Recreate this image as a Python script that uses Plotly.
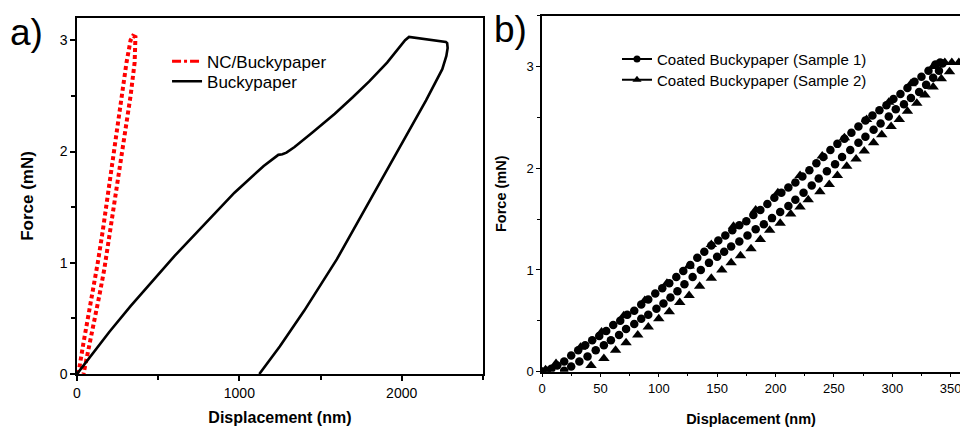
import plotly.graph_objects as go

# ---------------- Panel a data (nm, mN) ----------------
nc_x = [0, 15, 40, 70, 100, 128, 160, 188, 215, 245, 275, 305, 330, 345, 360,
        355, 330, 300, 268, 235, 200, 168, 137, 105, 72, 55, 40]
nc_y = [0, 0.06, 0.28, 0.52, 0.77, 1.0, 1.3, 1.6, 1.9, 2.2, 2.5, 2.8, 3.0, 3.04, 3.03,
        2.8, 2.5, 2.2, 1.9, 1.55, 1.24, 0.94, 0.70, 0.46, 0.22, 0.10, 0.0]

bp_x = [0, 100, 200, 330, 600, 970, 1150, 1240, 1265, 1290, 1340, 1450, 1588, 1700, 1800,
        1910, 2021, 2045, 2100, 2150, 2200, 2250, 2272, 2280,
        2283, 2275, 2250, 2150, 2000, 1800, 1600, 1400, 1250, 1123]
bp_y = [0, 0.19, 0.38, 0.61, 1.06, 1.63, 1.87, 1.97, 1.975, 1.99, 2.04, 2.17, 2.34, 2.49, 2.63,
        2.80, 3.00, 3.03, 3.02, 3.01, 3.00, 2.99, 2.985, 2.975,
        2.93, 2.86, 2.74, 2.46, 2.07, 1.55, 1.03, 0.57, 0.25, 0.0]

# ---------------- Panel b data (nm, mN) ----------------
s1_x = [0, 4, 8, 13, 19, 25, 31, 37, 43, 49, 55, 61, 67, 73, 79, 85, 91, 97, 103, 109,
        115, 121, 127, 133, 139, 145, 151, 157, 163, 169, 175, 181, 187, 193, 199, 205,
        211, 217, 223, 229, 235, 241, 247, 253, 259, 265, 271, 277, 283, 289, 295, 301,
        307, 313, 319, 325, 331, 337, 341,
        343, 340, 335, 329, 323, 316, 310, 303, 297, 290, 284, 277, 271, 264, 257, 251,
        244, 237, 231, 224, 217, 211, 204, 197, 190, 183, 176, 169, 162, 156, 150, 143,
        136, 129, 122, 116, 110, 104, 98, 91, 85, 79, 72, 66, 59, 53, 46, 39, 32, 25, 19]
s1_y = [0.00, 0.01, 0.03, 0.06, 0.10, 0.16, 0.21, 0.26, 0.31, 0.35, 0.40, 0.46, 0.50, 0.56,
        0.60, 0.66, 0.71, 0.77, 0.82, 0.87, 0.93, 0.99, 1.05, 1.12, 1.18, 1.24, 1.29, 1.34,
        1.39, 1.44, 1.48, 1.54, 1.59, 1.65, 1.71, 1.76, 1.81, 1.86, 1.92, 1.98, 2.05, 2.11,
        2.18, 2.24, 2.29, 2.35, 2.41, 2.47, 2.52, 2.57, 2.62, 2.68, 2.73, 2.79, 2.85, 2.90,
        2.96, 3.02, 3.04,
        3.03, 2.96, 2.89, 2.82, 2.75, 2.69, 2.63, 2.58, 2.51, 2.44, 2.38, 2.31, 2.25, 2.18,
        2.11, 2.04, 1.97, 1.90, 1.83, 1.76, 1.69, 1.63, 1.57, 1.51, 1.45, 1.40, 1.34, 1.28,
        1.23, 1.18, 1.13, 1.07, 1.00, 0.93, 0.86, 0.79, 0.73, 0.67, 0.62, 0.56, 0.52, 0.47,
        0.42, 0.36, 0.31, 0.26, 0.21, 0.15, 0.10, 0.05, 0.01]

s2_x = [0, 3, 12, 33, 51, 70, 88, 107, 126, 145, 164, 183, 202, 221, 240, 259, 278, 297,
        316, 335, 345, 351, 357,
        349, 342, 335, 328, 321, 313, 306, 299, 291, 284, 276, 269, 261, 253, 246, 238,
        228, 221, 213, 204, 195, 187, 179, 170, 162, 154, 145, 135, 126, 118, 109, 100,
        91, 82, 72, 63, 53, 42]
s2_y = [0.00, 0.02, 0.08, 0.24, 0.39, 0.55, 0.70, 0.87, 1.04, 1.25, 1.43, 1.59, 1.76, 1.93,
        2.12, 2.30, 2.48, 2.65, 2.83, 3.00, 3.04, 3.04, 3.04,
        2.95, 2.88, 2.80, 2.72, 2.64, 2.56, 2.48, 2.41, 2.33, 2.25, 2.17, 2.09, 2.02, 1.93,
        1.84, 1.77, 1.69, 1.62, 1.55, 1.46, 1.39, 1.30, 1.21, 1.14, 1.07, 1.00, 0.92, 0.84,
        0.75, 0.68, 0.59, 0.52, 0.44, 0.36, 0.285, 0.21, 0.13, 0.06]

FONT = "Liberation Sans, Arial, sans-serif"

fig = go.Figure()

# Panel a
fig.add_trace(go.Scatter(x=nc_x, y=nc_y, mode="lines", xaxis="x", yaxis="y",
                         line=dict(color="#ff0000", width=4, dash="4px,3px"),
                         showlegend=False, name="NC/Buckypaper"))
fig.add_trace(go.Scatter(x=[None], y=[None], mode="lines", xaxis="x", yaxis="y",
                         line=dict(color="#ff0000", width=3, dash="dashdot"),
                         name="NC/Buckypaper", legend="legend"))
fig.add_trace(go.Scatter(x=bp_x, y=bp_y, mode="lines", xaxis="x", yaxis="y",
                         line=dict(color="black", width=2.6),
                         name="Buckypaper", legend="legend2"))

# Panel b
fig.add_trace(go.Scatter(x=s1_x, y=s1_y, mode="markers", xaxis="x2", yaxis="y2",
                         marker=dict(symbol="circle", size=8.5, color="black"),
                         showlegend=False, name="Coated Buckypaper (Sample 1)"))
fig.add_trace(go.Scatter(x=s2_x, y=s2_y, mode="markers", xaxis="x2", yaxis="y2",
                         marker=dict(symbol="triangle-up", size=10, color="black"),
                         showlegend=False, name="Coated Buckypaper (Sample 2)"))
fig.add_trace(go.Scatter(x=[None], y=[None], mode="lines+markers", xaxis="x2", yaxis="y2",
                         marker=dict(symbol="circle", size=7, color="black"),
                         line=dict(color="black", width=2),
                         name="Coated Buckypaper (Sample 1)", legend="legend3"))
fig.add_trace(go.Scatter(x=[None], y=[None], mode="lines+markers", xaxis="x2", yaxis="y2",
                         marker=dict(symbol="triangle-up", size=8, color="black"),
                         line=dict(color="black", width=2),
                         name="Coated Buckypaper (Sample 2)", legend="legend4"))

axis_common = dict(showline=True, linecolor="black", linewidth=1.5, ticks="outside",
                   tickcolor="black", showgrid=False, zeroline=False, automargin=False,
                   color="black", ticklabeloverflow="allow")

def leg(x, y, size):
    return dict(x=x, y=y, xanchor="left", yanchor="middle", bgcolor="rgba(0,0,0,0)",
                font=dict(size=size, family=FONT), borderwidth=0)

fig.update_layout(
    width=960, height=427,
    margin=dict(l=0, r=0, t=0, b=0),
    paper_bgcolor="white", plot_bgcolor="white",
    font=dict(family=FONT, color="black"),
    xaxis=dict(domain=[0.0802, 0.503], range=[0, 2500], anchor="y", mirror=True,
               dtick=1000, ticklen=5, tickwidth=1.5,
               minor=dict(dtick=500, ticks="outside", ticklen=4, tickcolor="black", tickwidth=1.5),
               tickfont=dict(size=14, family=FONT),
               title=dict(text="<b>Displacement (nm)</b>", font=dict(size=16, family=FONT), standoff=12),
               **axis_common),
    yaxis=dict(domain=[0.1241, 0.9578], range=[0, 3.2], anchor="x", mirror=True,
               dtick=1, ticklen=5, tickwidth=1.5,
               minor=dict(dtick=0.5, ticks="outside", ticklen=4, tickcolor="black", tickwidth=1.5),
               tickfont=dict(size=14, family=FONT),
               title=dict(text="<b>Force (mN)</b>", font=dict(size=17, family=FONT), standoff=22),
               **axis_common),
    xaxis2=dict(domain=[0.5646, 1.0], range=[0, 358], anchor="y2", mirror=True,
                dtick=50, ticklen=4, tickwidth=1.2,
                minor=dict(dtick=25, ticks="outside", ticklen=3, tickcolor="black", tickwidth=1.2),
                tickfont=dict(size=13, family=FONT),
                title=dict(text="<b>Displacement (nm)</b>", font=dict(size=14.5, family=FONT), standoff=20),
                **axis_common),
    yaxis2=dict(domain=[0.1295, 0.9632], range=[0, 3.5], anchor="x2", mirror=False,
                dtick=1, ticklen=4, tickwidth=1.2,
                minor=dict(dtick=0.5, ticks="outside", ticklen=3, tickcolor="black", tickwidth=1.2),
                tickfont=dict(size=13, family=FONT),
                title=dict(text="<b>Force (mN)</b>", font=dict(size=14.5, family=FONT), standoff=16),
                **axis_common),
    legend=leg(0.174, 0.8555, 17),
    legend2=leg(0.174, 0.8087, 17),
    legend3=leg(0.6427, 0.8611, 15),
    legend4=leg(0.6427, 0.8126, 15),
    annotations=[
        dict(text="a)", x=0.008, y=0.925, xref="paper", yref="paper", xanchor="left",
             yanchor="middle", showarrow=False, font=dict(size=37, family=FONT)),
        dict(text="b)", x=0.512, y=0.93, xref="paper", yref="paper", xanchor="left",
             yanchor="middle", showarrow=False, font=dict(size=37, family=FONT)),
    ],
)

fig.write_html("out.html", config={"displayModeBar": False},
               post_script="document.body.style.margin='0';document.body.style.overflow='hidden';")
